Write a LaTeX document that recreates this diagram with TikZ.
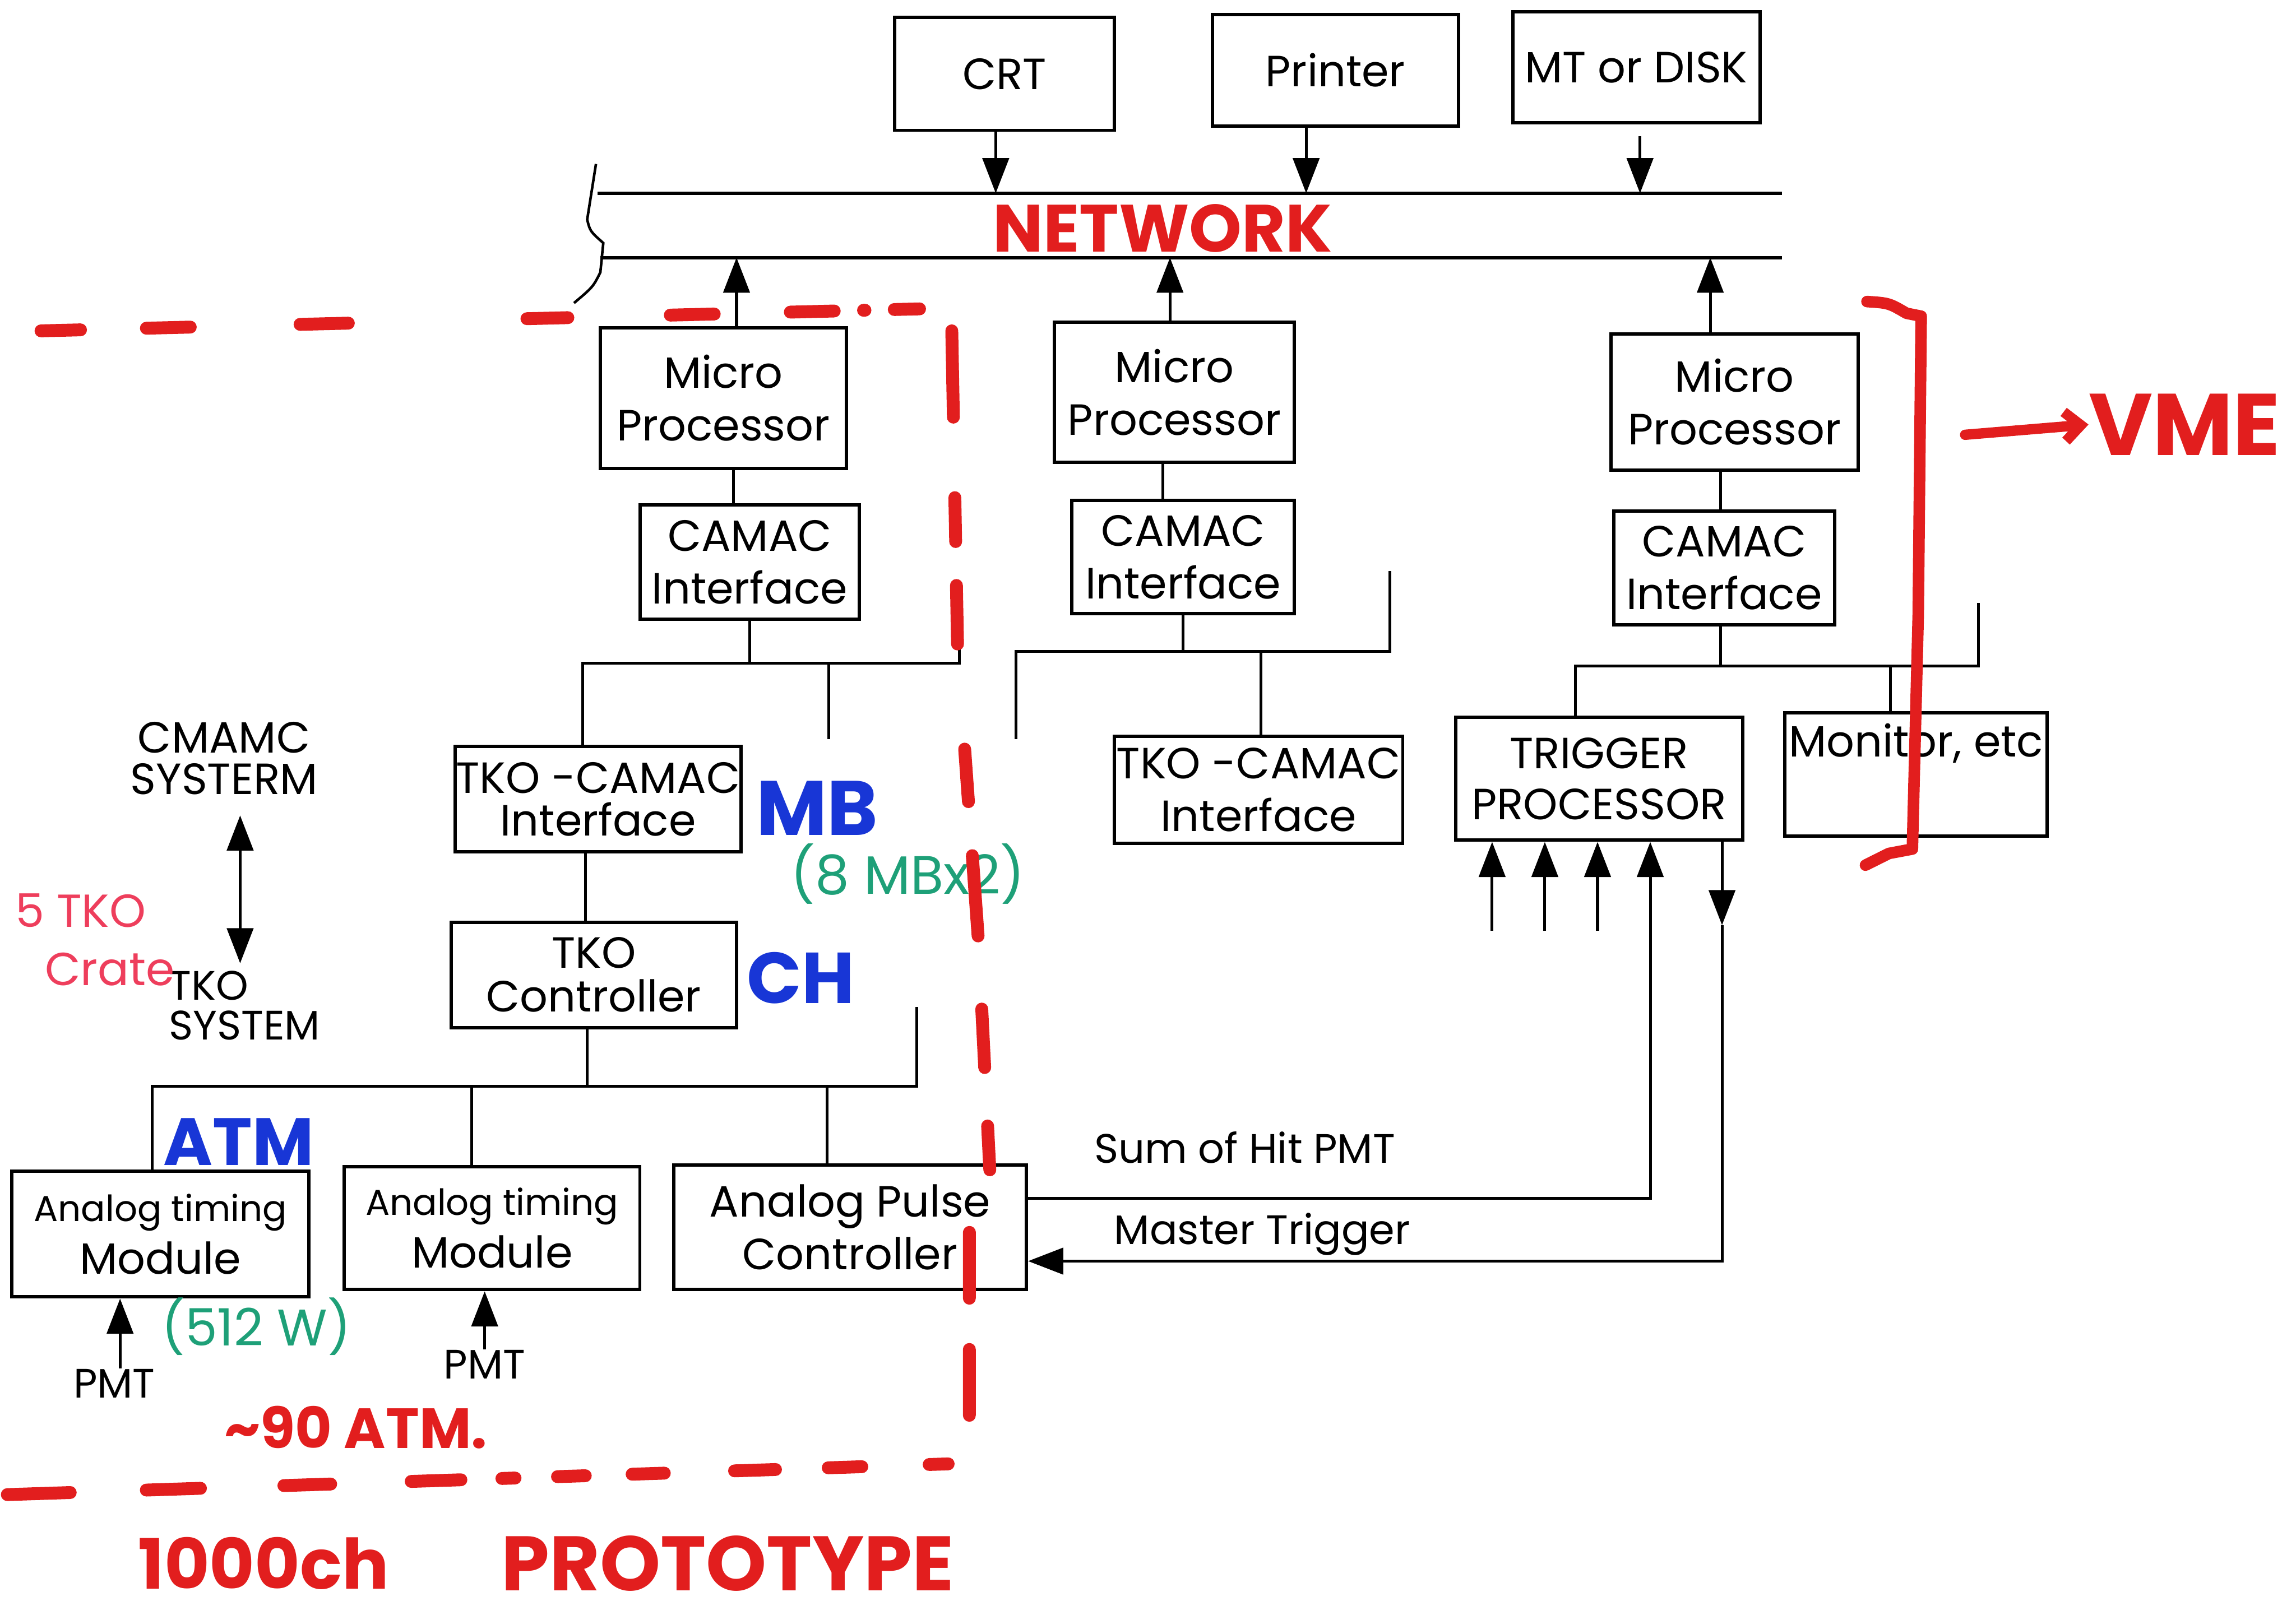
\documentclass[tikz,border=0pt]{standalone}
\usepackage{fontspec}
\setmainfont{Poppins}
\usetikzlibrary{arrows.meta, calc, positioning}
\definecolor{penred}{RGB}{226, 30, 30}
\definecolor{penpink}{RGB}{238, 62, 92}
\definecolor{penblue}{RGB}{24, 54, 214}
\definecolor{pengreen}{RGB}{30, 160, 120}
\tikzset{
    box/.style={draw, line width=1.3pt, inner sep=0pt, align=center, font=\fontsize{17}{20.5}\selectfont},
    wire/.style={line width=1.1pt},
    arrow/.style={-{Triangle[length=0.48cm, width=0.36cm]}, line width=1.1pt},
    note/.style={inner sep=0pt, align=center, font=\fontsize{16}{17}\selectfont},
    redpen/.style={penred, line width=5pt, line cap=round, line join=round},
    scrawl/.style={inner sep=0pt, align=center}
}

\begin{document}
\begin{tikzpicture}[x=0.02cm, y=-0.02cm]
    \useasboundingbox (0,0) rectangle (1568,1103);

    % Peripherals on the network
    \node[box, minimum width=3.00cm, minimum height=1.54cm] (crt) at (686,50.5) {CRT};
    \node[box, minimum width=3.36cm, minimum height=1.52cm] (printer) at (912,48) {Printer};
    \node[box, minimum width=3.38cm, minimum height=1.52cm] (disk) at (1117.5,46) {MT or DISK};

    % Network bus
    \coordinate (ntl) at (408,132);
    \coordinate (ntr) at (1217,132);
    \coordinate (nbl) at (410,176);
    \coordinate (nbr) at (1217,176);
    \draw[line width=1.4pt] (ntl) -- (ntr);
    \draw[line width=1.4pt] (nbl) -- (nbr);
    \draw[line width=1pt] (407,112) -- (401,150) .. controls (403,158) .. (412,166) -- (410,186) .. controls (405,196) .. (392,207);

    \draw[arrow] (680,0 |- crt.south) -- (680,0 |- ntl);
    \draw[arrow] (892,0 |- printer.south) -- (892,0 |- ntl);
    \draw[arrow, shorten <=0.16cm] (1120,0 |- disk.south) -- (1120,0 |- ntl);

    % Left crate (CAMAC + TKO)
    \node[box, minimum width=3.36cm, minimum height=1.92cm] (mpa) at (494,272) {Micro\\Processor};
    \node[box, minimum width=3.00cm, minimum height=1.56cm] (cama) at (512,384) {CAMAC\\Interface};
    \node[box, minimum width=3.90cm, minimum height=1.44cm, font=\fontsize{17}{16.5}\selectfont] (tkca) at (408.5,546) {TKO -CAMAC\\Interface};
    \node[box, minimum width=3.90cm, minimum height=1.44cm, font=\fontsize{17}{17}\selectfont] (ctl) at (405.5,666) {TKO\\Controller};

    \draw[arrow] (503,0 |- mpa.north) -- (503,0 |- nbl);
    \draw[wire] (501,0 |- mpa.south) -- (501,0 |- cama.north);
    \coordinate (busal) at (398,453);
    \coordinate (busar) at (655,453);
    \draw[wire] (cama.south) -- (cama.south |- busal);
    \draw[wire] (busal |- tkca.north) -- (busal) -- (busar) -- (655,398);
    \draw[wire] (566,0 |- busal) -- (566,505);
    \draw[wire] (400,0 |- tkca.south) -- (400,0 |- ctl.north);

    % Analog modules
    \node[box, minimum width=4.06cm, minimum height=1.72cm] (atma) at (109.5,843) {{\fontsize{14}{20.5}\selectfont Analog timing}\\Module};
    \node[box, minimum width=4.04cm, minimum height=1.68cm] (atmb) at (336,839) {{\fontsize{14}{20.5}\selectfont Analog timing}\\Module};
    \node[box, minimum width=4.82cm, minimum height=1.70cm] (apc) at (580.5,838.5) {Analog Pulse\\Controller};

    \coordinate (busbl) at (104,742);
    \coordinate (busbr) at (626,742);
    \draw[wire] (401,0 |- ctl.south) -- (401,0 |- busbl);
    \draw[wire] (busbl |- atma.north) -- (busbl) -- (busbr) -- (626,688);
    \draw[wire] (322,0 |- busbl) -- (322,0 |- atmb.north);
    \draw[wire] (565,0 |- busbl) -- (565,0 |- apc.north);

    \node[note] (pmta) at (78,945) {PMT};
    \node[note] (pmtb) at (331,932) {PMT};
    \draw[arrow] (82,0 |- pmta.north) -- (82,0 |- atma.south);
    \draw[arrow] (pmtb.north) -- (pmtb.north |- atmb.south);

    % Middle crate
    \node[box, minimum width=3.28cm, minimum height=1.92cm] (mpb) at (802,268) {Micro\\Processor};
    \node[box, minimum width=3.04cm, minimum height=1.54cm] (camb) at (808,380.5) {CAMAC\\Interface};
    \node[box, minimum width=3.94cm, minimum height=1.46cm] (tkcb) at (859.5,539.5) {TKO -CAMAC\\Interface};

    \draw[arrow] (799,0 |- mpb.north) -- (799,0 |- nbl);
    \draw[wire] (794,0 |- mpb.south) -- (794,0 |- camb.north);
    \coordinate (busml) at (694,445);
    \coordinate (busmr) at (949,445);
    \draw[wire] (camb.south) -- (camb.south |- busml);
    \draw[wire] (694,505) -- (busml) -- (busmr) -- (949,390);
    \draw[wire] (861,0 |- busml) -- (861,0 |- tkcb.north);

    % Right crate (trigger)
    \node[box, minimum width=3.38cm, minimum height=1.86cm] (mpc) at (1184.5,274.5) {Micro\\Processor};
    \node[box, minimum width=3.02cm, minimum height=1.56cm] (camc) at (1177.5,388) {CAMAC\\Interface};
    \node[box, minimum width=3.92cm, minimum height=1.68cm, font=\fontsize{17}{20}\selectfont] (trig) at (1092,532) {TRIGGER\\PROCESSOR};
    \node[box, minimum width=3.58cm, minimum height=1.68cm] (mon) at (1308.5,529) {Monitor, etc\\\strut};

    \draw[arrow] (1168,0 |- mpc.north) -- (1168,0 |- nbl);
    \draw[wire] (1175,0 |- mpc.south) -- (1175,0 |- camc.north);
    \coordinate (buscl) at (1076,455);
    \coordinate (buscr) at (1351,455);
    \draw[wire] (1175,0 |- camc.south) -- (1175,0 |- buscl);
    \draw[wire] (buscl |- trig.north) -- (buscl) -- (buscr) -- (1351,412);
    \draw[wire] (1291,0 |- buscl) -- (1291,0 |- mon.north);

    \draw[arrow] (1019,636) -- (1019,0 |- trig.south);
    \draw[arrow] (1055,636) -- (1055,0 |- trig.south);
    \draw[arrow] (1091,636) -- (1091,0 |- trig.south);
    \draw[arrow] ($(apc.east)+(0,-20)$) -| (1127,0 |- trig.south);
    \coordinate (mtk) at (1176,632);
    \draw[arrow] (mtk |- trig.south) -- (mtk);
    \draw[arrow] (mtk) |- ($(apc.east)+(0,23)$);

    \node[note] (sumlbl) at (850,784) {Sum of Hit PMT};
    \node[note] (mtlbl) at (862,843) {Master Trigger};

    % System levels
    \node[note, font=\fontsize{17}{16}\selectfont] (camsys) at (153,518) {CMAMC\\SYSTERM};
    \node[note, anchor=west, align=left, font=\fontsize{16}{15.5}\selectfont] (tkosys) at (115,687) {TKO\\SYSTEM};
    \draw[{Triangle[length=0.48cm, width=0.36cm]}-{Triangle[length=0.48cm, width=0.36cm]}, wire, shorten <=0.28cm, shorten >=0.1cm] (164,0 |- camsys.south) -- (164,0 |- tkosys.north);

    % Hand-written notes
    \node[scrawl, text=penred, font=\fontsize{26}{26}\bfseries] (netlbl) at (794,156) {NETWORK};
    \node[scrawl, text=penred, font=\fontsize{34}{34}\bfseries] (vme) at (1492,290) {VME};
    \draw[redpen, line width=4pt, -{Straight Barb[length=0.22cm, width=0.4cm]}] (1342,297) -- (vme.west);
    \node[scrawl, text=penblue, font=\fontsize{30}{30}\bfseries] (mb) at (558,552) {MB};
    \node[scrawl, text=pengreen, font=\fontsize{21}{21}\selectfont] (mbx) at (620,597) {(8 MBx2)};
    \node[scrawl, text=penblue, font=\fontsize{28}{28}\bfseries] (ch) at (547,668) {CH};
    \node[scrawl, text=penblue, font=\fontsize{26}{26}\bfseries] (atm) at (163,780) {ATM};
    \node[scrawl, text=pengreen, font=\fontsize{20}{20}\selectfont] (watt) at (175,906) {(512 W)};
    \node[scrawl, text=penpink, font=\fontsize{18}{18}\selectfont] (crates) at (55,622) {5 TKO};
    \node[scrawl, text=penpink, font=\fontsize{18}{18}\selectfont] (crate) at (75,662) {Crate};
    \node[scrawl, text=penred, font=\fontsize{22}{22}\bfseries] (natm) at (243,975) {\textasciitilde 90 ATM.};
    \node[scrawl, text=penred, font=\fontsize{27}{27}\bfseries] (chans) at (180,1068) {1000ch};
    \node[scrawl, text=penred, font=\fontsize{30}{30}\bfseries] (proto) at (497,1068) {PROTOTYPE};

    % Prototype boundary
    \draw[redpen, dash pattern=on 0.54cm off 0.9cm on 0.6cm off 1.5cm on 0.66cm off 2.44cm on 0.56cm off 1.4cm on 0.6cm off 1.04cm on 0.6cm off 0.4cm on 0.02cm off 0.4cm on 0.36cm off 5cm] (28,226) -- (628,211);
    \draw[redpen, dash pattern=on 1.18cm off 1.1cm on 0.6cm off 0.6cm on 0.8cm off 1.44cm on 0.72cm off 0.74cm on 1.1cm off 1cm on 0.8cm off 0.8cm on 0.6cm off 0.9cm on 0.9cm off 0.7cm on 0.9cm off 5cm] (650,226) -- (654,445) -- (668,640) -- (676,800) -- (662,842) -- (662,975);
    \draw[redpen, dash pattern=on 0.86cm off 1.04cm on 0.74cm off 1.14cm on 0.64cm off 1.1cm on 0.68cm off 0.56cm on 0.18cm off 0.58cm on 0.38cm off 0.64cm on 0.44cm off 0.96cm on 0.56cm off 0.72cm on 0.46cm off 0.92cm on 0.26cm off 5cm] (5,1021) -- (648,1000);

    % VME bracket
    \draw[redpen, line width=4.5pt] (1275,206) .. controls (1290,207) .. (1302,214) -- (1312,216) -- (1310,420) -- (1306,580) -- (1290,583) -- (1274,591);
\end{tikzpicture}
\end{document}
